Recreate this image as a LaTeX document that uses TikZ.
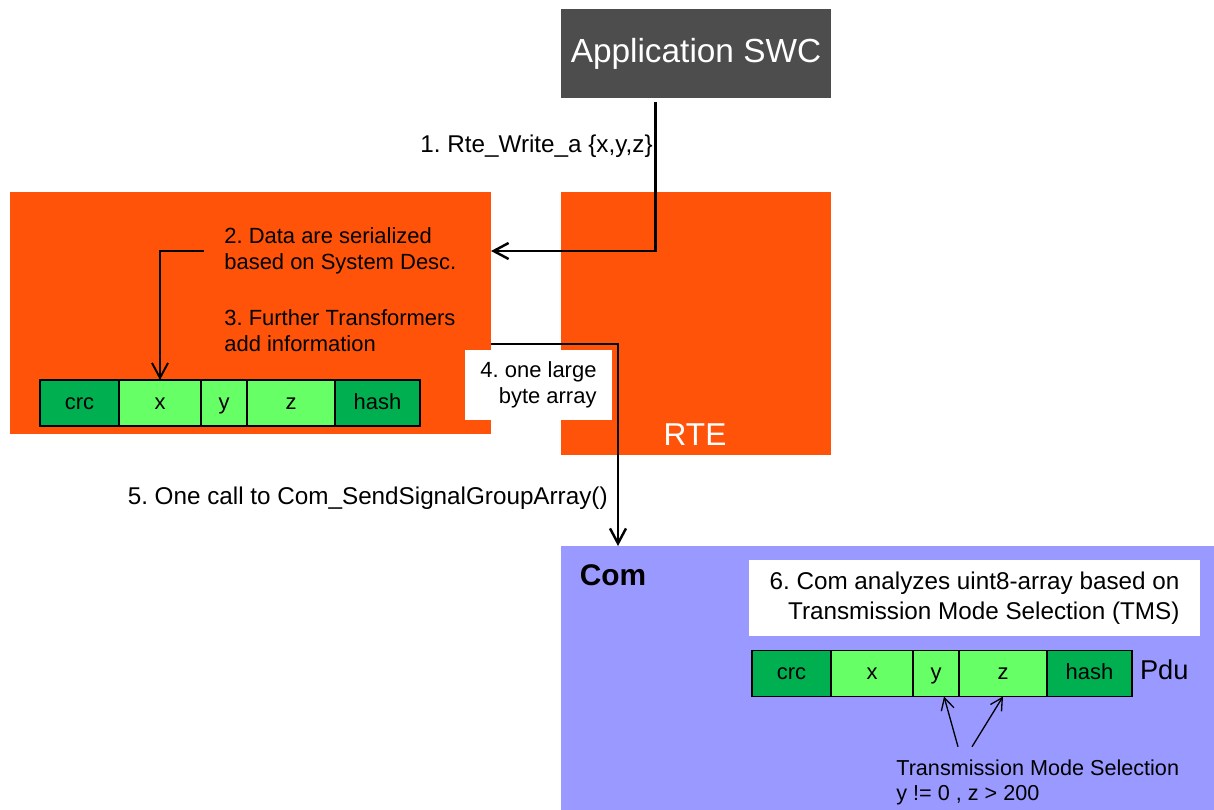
\documentclass[tikz,border=0pt]{standalone}
\usepackage{fontspec}
\setmainfont{Liberation Sans}
\usepackage{tikz}
\usepackage{xcolor}
\usetikzlibrary{arrows.meta}
\usetikzlibrary{positioning,calc}
\frenchspacing

\definecolor{swcgray}{RGB}{77,77,77}
\definecolor{rteorange}{RGB}{255,83,9}
\definecolor{comblue}{RGB}{153,153,255}
\definecolor{celldark}{RGB}{0,176,80}
\definecolor{celllight}{RGB}{102,255,102}

\tikzset{
  block/.style={rectangle, inner sep=0pt, outer sep=0pt},
  note/.style={inner sep=0pt, font=\fontsize{12.5}{15}\selectfont},
  call/.style={inner sep=0pt, font=\fontsize{13.8}{16.8}\selectfont},
  cellhi/.style={draw=black, line width=0.9pt, fill=celldark, minimum height=0.92cm,
    inner sep=0pt, outer sep=0pt, text height=0.85em, text depth=0.15em,
    font=\fontsize{12.5}{15}\selectfont},
  celllo/.style={cellhi, fill=celllight},
  flow/.style={-{Straight Barb[length=3mm,width=3.2mm]}, line width=1.4pt},
  pick/.style={-{Straight Barb[length=2.4mm,width=2.6mm]}, line width=0.75pt},
}

\begin{document}
\begin{tikzpicture}
    \useasboundingbox (0,0) rectangle (24.28,-16.2);

    \node[block, fill=swcgray, minimum width=5.4cm, minimum height=1.78cm, text=white,
      font=\fontsize{19}{23}\selectfont] at (13.92,-1.07) (app) {Application SWC};

    \node[block, fill=rteorange, minimum width=9.62cm, minimum height=4.84cm] at (5.01,-6.26) (serial) {};
    \node[block, fill=rteorange, minimum width=5.4cm, minimum height=5.26cm] at (13.92,-6.47) (rte) {};
    \node[block, text=white, font=\fontsize{18}{22}\selectfont] at (13.9,-8.7) (rtelabel) {RTE};

    \node[note, anchor=west, align=left] at (4.48,-5.02) (serialize) {2. Data are serialized\\based on System Desc.};
    \node[note, anchor=west, align=left] at (4.48,-6.61) (transform) {3. Further Transformers\\add information};

    \node[cellhi, minimum width=1.58cm, anchor=west] at (0.8,-8.06) (crc1) {crc};
    \node[celllo, minimum width=1.64cm, right=0pt of crc1] (x1) {x};
    \node[celllo, minimum width=0.92cm, right=0pt of x1] (y1) {y};
    \node[celllo, minimum width=1.76cm, right=0pt of y1] (z1) {z};
    \node[cellhi, minimum width=1.7cm, right=0pt of z1] (hash1) {hash};

    \node[block, fill=white, minimum width=2.94cm, minimum height=1.4cm, align=right,
      font=\fontsize{12.5}{15}\selectfont] at (10.77,-7.7) (bytes) {4. one large\\byte array};

    \node[block, fill=comblue, minimum width=13.06cm, minimum height=5.28cm] at (17.75,-13.56) (com) {};
    \node[block, font=\bfseries\fontsize{17}{20}\selectfont] at (12.26,-11.5) (comlabel) {Com};
    \node[block, fill=white, minimum width=9.02cm, minimum height=1.52cm, align=right,
      font=\fontsize{13.8}{16.8}\selectfont] at (19.49,-11.96) (tms) {6. Com analyzes uint8-array based on\\Transmission Mode Selection (TMS)};

    \node[cellhi, minimum width=1.58cm, anchor=west] at (15.04,-13.47) (crc2) {crc};
    \node[celllo, minimum width=1.64cm, right=0pt of crc2] (x2) {x};
    \node[celllo, minimum width=0.92cm, right=0pt of x2] (y2) {y};
    \node[celllo, minimum width=1.76cm, right=0pt of y2] (z2) {z};
    \node[cellhi, minimum width=1.7cm, right=0pt of z2] (hash2) {hash};
    \node[block, anchor=west, font=\fontsize{15.5}{18}\selectfont] at (22.8,-13.39) (pdu) {Pdu};

    \node[note, anchor=west, align=left, font=\fontsize{12.3}{14}\selectfont] at (17.92,-15.65) (tmsel) {Transmission Mode Selection\\y != 0 , z > 200};

    \node[call, anchor=east] at (13.06,-2.93) (write) {1. Rte\_Write\_a \{x,y,z\}};
    \node[call, anchor=east] at (12.16,-9.97) (sendcall) {5. One call to Com\_SendSignalGroupArray()};

    \coordinate (drop) at (12.36,-6.88);

    \draw[flow] ($(app.south)+(-0.81,-0.08)$) |- (serial.east |- serialize);
    \draw[flow, line width=1.1pt] ($(serialize.west)+(-0.4,0)$) -| (x1.north);
    \draw[flow] (serial.east |- drop) -| (com.north -| drop);

    \draw[pick] ($(tmsel.north west)+(1.24,0.26)$) -- ([xshift=0.16cm]y2.south);
    \draw[pick] ($(tmsel.north west)+(1.52,0.26)$) -- (z2.south);
\end{tikzpicture}
\end{document}
